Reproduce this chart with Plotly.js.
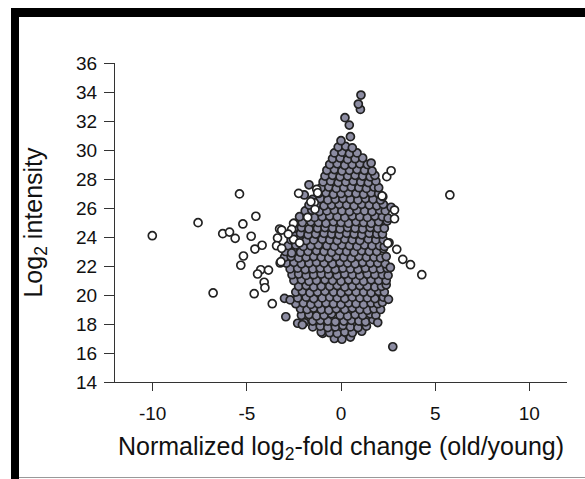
<!DOCTYPE html>
<html>
<head>
<meta charset="utf-8">
<script src="https://cdn.plot.ly/plotly-3.0.1.min.js"></script>
<style>
  html, body { margin: 0; padding: 0; background: #fff; }
  #wrap { position: relative; width: 585px; height: 479px; overflow: hidden; }
  #chart { position: absolute; left: 0; top: 0; width: 585px; height: 479px; }
  .bar { position: absolute; background: #000; }
</style>
</head>
<body>
<div id="wrap">
  <div id="chart"></div>
  <div class="bar" style="left:11px; top:8px; width:574px; height:9px;"></div>
  <div class="bar" style="left:11px; top:8px; width:8px; height:471px;"></div>
  <div class="bar" style="left:19px; top:477px; width:566px; height:1px; background:#999;"></div>
</div>
<script>
// Open (white) outlier proteins: log2 fold change and log2 intensity
const openX = [-10.02, -7.59, -5.39, -4.52, -5.21, -6.28, -5.92, -5.62, -4.77, -4.57, -4.19, -5.18, -5.32,
  -4.26, -3.85, -4.43, -4.08, -4.04, -6.79, -4.61, -3.65, -3.26, -3.37, -3.42, -3.23,
  -2.25, -1.42, -1.38, -1.77, -2.52, -3.15, -2.62, -2.52, -3.15, -3.19, -1.29, -1.60, -2.80, -2.20, -1.24,
  2.43, 2.66, 2.22, 2.84, 2.84, 2.18, 5.78, 2.48, 2.96, 3.28, 3.69, 4.29];
const openY = [24.09, 24.99, 26.97, 25.43, 24.90, 24.23, 24.34, 23.91, 24.05, 23.17, 23.43, 22.69, 22.05,
  21.74, 21.72, 21.45, 20.88, 20.50, 20.14, 20.09, 19.40, 24.55, 23.93, 23.40, 22.21,
  27.01, 26.37, 25.91, 25.36, 24.94, 24.48, 24.53, 23.84, 23.22, 22.30, 27.29, 26.43, 24.20, 23.60, 27.05,
  28.16, 28.57, 26.78, 25.86, 25.26, 26.83, 26.90, 23.57, 23.15, 22.46, 22.09, 21.40];

// Filled (grey) proteins, the dense central cloud, listed band by band
const filledX = [
  -0.35, 0.05, 0.50, -0.97, 2.75,
  -1.05, -0.60, -0.20, 0.20, 0.60, 1.10,
  -1.50, -1.10, -0.70, -0.30, 0.10, 0.50, 0.90, 1.35,
  -2.30, -1.95, -1.50, -1.10, -0.70, -0.30, 0.15, 0.55, 0.95, 1.30, 1.70,
  -2.93, -2.10, -1.70, -1.30, -0.90, -0.50, -0.05, 0.35, 0.75, 1.15, 1.55, 1.85,
  -2.15, -1.80, -1.45, -1.05, -0.65, -0.25, 0.20, 0.60, 1.00, 1.40, 1.75, 2.10,
  -2.40, -2.00, -1.60, -1.20, -0.80, -0.40, 0.00, 0.40, 0.80, 1.20, 1.60, 1.95, 2.20,
  -3.00, -2.70, -2.30, -1.85, -1.45, -1.00, -0.60, -0.20, 0.20, 0.60, 1.00, 1.40, 1.80, 2.25,
  -2.40, -2.05, -1.65, -1.25, -0.85, -0.40, 0.00, 0.40, 0.80, 1.20, 1.60, 2.00, 2.30,
  -2.25, -1.85, -1.45, -1.05, -0.60, -0.20, 0.20, 0.60, 1.00, 1.40, 1.80, 2.15, 2.40,
  -2.50, -2.10, -1.70, -1.30, -0.85, -0.45, 0.00, 0.40, 0.80, 1.20, 1.60, 2.00, 2.40,
  -2.60, -2.25, -1.85, -1.45, -1.05, -0.65, -0.20, 0.20, 0.60, 1.00, 1.40, 1.80, 2.20, 2.50,
  -2.70, -2.30, -1.90, -1.50, -1.10, -0.70, -0.30, 0.10, 0.50, 0.90, 1.30, 1.70, 2.10, 2.45,
  -2.90, -2.50, -2.10, -1.70, -1.30, -0.90, -0.45, -0.05, 0.35, 0.75, 1.15, 1.55, 1.95, 2.35,
  -3.00, -2.65, -2.25, -1.85, -1.45, -1.05, -0.65, -0.25, 0.15, 0.55, 0.95, 1.35, 1.75, 2.10, 2.40,
  -2.95, -2.55, -2.15, -1.75, -1.30, -0.90, -0.50, -0.10, 0.30, 0.70, 1.10, 1.50, 1.90, 2.25,
  -2.80, -2.40, -2.00, -1.60, -1.20, -0.75, -0.35, 0.05, 0.45, 0.85, 1.25, 1.65, 2.05, 2.30,
  -2.65, -2.25, -1.85, -1.45, -1.00, -0.60, -0.20, 0.20, 0.60, 1.00, 1.45, 1.85, 2.25,
  -2.55, -2.15, -1.75, -1.35, -0.90, -0.50, -0.10, 0.30, 0.70, 1.10, 1.50, 1.90, 2.20,
  -2.50, -2.10, -1.70, -1.25, -0.85, -0.45, -0.05, 0.35, 0.75, 1.15, 1.55, 1.95, 2.30,
  -2.48, -2.05, -1.60, -1.20, -0.80, -0.40, 0.00, 0.40, 0.80, 1.20, 1.60, 2.00, 2.45,
  -2.20, -1.80, -1.40, -1.00, -0.60, -0.20, 0.20, 0.60, 1.00, 1.40, 1.80, 2.20, 2.50,
  -1.90, -1.55, -1.15, -0.75, -0.35, 0.05, 0.45, 0.85, 1.25, 1.65, 2.05, 2.35,
  -1.70, -1.30, -0.90, -0.50, -0.10, 0.30, 0.70, 1.10, 1.50, 1.90, 2.25, 2.66,
  -1.50, -1.10, -0.70, -0.30, 0.10, 0.50, 0.90, 1.30, 1.70, 2.10,
  -1.20, -0.80, -0.40, 0.00, 0.40, 0.80, 1.20, 1.60, 2.00,
  -1.05, -0.65, -0.25, 0.15, 0.55, 0.95, 1.35, 1.75, 2.00,
  -0.95, -0.55, -0.15, 0.25, 0.65, 1.05, 1.45, 1.85,
  -0.85, -0.45, -0.05, 0.35, 0.75, 1.15, 1.55, 1.80,
  -0.75, -0.35, 0.05, 0.45, 0.85, 1.25, 1.65,
  -0.60, -0.20, 0.20, 0.60, 1.00, 1.40, 1.60,
  -0.45, -0.05, 0.35, 0.75, 1.15,
  -0.35, 0.05, 0.45, 0.85,
  -0.15, 0.25, 0.60,
  0.00, 0.50, 0.44, 0.21, 1.03, 0.92, 1.06,
  -2.62, 2.55, 2.62, -1.95, 2.52, -2.05, 1.95, -1.70
];
const filledY = [
  17.00, 16.95, 17.10, 17.36, 16.43,
  17.45, 17.40, 17.35, 17.45, 17.40, 17.50,
  17.80, 17.85, 17.75, 17.80, 17.90, 17.80, 17.75, 17.85,
  18.05, 18.10, 18.20, 18.25, 18.20, 18.15, 18.20, 18.25, 18.20, 18.15, 18.30,
  18.50, 18.60, 18.65, 18.55, 18.60, 18.70, 18.60, 18.55, 18.65, 18.60, 18.70, 18.60,
  19.05, 19.00, 19.10, 19.00, 18.95, 19.05, 19.00, 19.10, 19.00, 18.95, 19.05, 19.00,
  19.40, 19.45, 19.35, 19.40, 19.45, 19.40, 19.35, 19.45, 19.40, 19.35, 19.45, 19.40, 19.50,
  19.77, 19.66, 19.80, 19.85, 19.75, 19.80, 19.85, 19.80, 19.75, 19.85, 19.80, 19.80, 19.75, 19.85,
  20.20, 20.25, 20.15, 20.20, 20.25, 20.20, 20.15, 20.25, 20.20, 20.20, 20.15, 20.25, 20.20,
  20.60, 20.65, 20.55, 20.60, 20.60, 20.65, 20.55, 20.60, 20.65, 20.60, 20.55, 20.60, 20.70,
  21.00, 21.05, 20.95, 21.00, 21.05, 21.00, 20.95, 21.05, 21.00, 20.95, 21.05, 21.00, 21.00,
  21.40, 21.45, 21.35, 21.40, 21.45, 21.40, 21.35, 21.45, 21.40, 21.35, 21.45, 21.40, 21.40, 21.35,
  21.80, 21.85, 21.75, 21.80, 21.85, 21.80, 21.75, 21.85, 21.80, 21.75, 21.85, 21.80, 21.80, 21.85,
  22.20, 22.25, 22.15, 22.20, 22.25, 22.20, 22.15, 22.25, 22.20, 22.15, 22.25, 22.20, 22.20, 22.15,
  22.60, 22.65, 22.55, 22.60, 22.65, 22.60, 22.55, 22.65, 22.60, 22.55, 22.65, 22.60, 22.60, 22.55, 22.65,
  23.00, 23.05, 22.95, 23.00, 23.05, 23.00, 22.95, 23.05, 23.00, 22.95, 23.05, 23.00, 23.00, 23.20,
  23.40, 23.45, 23.35, 23.40, 23.45, 23.40, 23.35, 23.45, 23.40, 23.35, 23.45, 23.40, 23.40, 23.35,
  23.80, 23.85, 23.75, 23.80, 23.85, 23.80, 23.75, 23.85, 23.80, 23.75, 23.85, 23.80, 23.80,
  24.20, 24.25, 24.15, 24.20, 24.25, 24.20, 24.15, 24.25, 24.20, 24.15, 24.25, 24.20, 24.20,
  24.60, 24.65, 24.55, 24.60, 24.65, 24.60, 24.55, 24.65, 24.60, 24.55, 24.65, 24.60, 24.60,
  24.95, 25.00, 25.05, 25.00, 24.95, 25.05, 25.00, 24.95, 25.05, 25.00, 24.95, 25.05, 25.10,
  25.40, 25.45, 25.35, 25.40, 25.45, 25.40, 25.35, 25.45, 25.40, 25.35, 25.45, 25.40, 25.30,
  25.80, 25.85, 25.75, 25.80, 25.85, 25.80, 25.75, 25.85, 25.80, 25.75, 25.85, 25.80,
  26.20, 26.25, 26.15, 26.20, 26.25, 26.20, 26.15, 26.25, 26.20, 26.15, 26.25, 26.05,
  26.60, 26.65, 26.55, 26.60, 26.65, 26.60, 26.55, 26.65, 26.60, 26.55,
  27.00, 27.05, 26.95, 27.00, 27.05, 27.00, 26.95, 27.05, 27.00,
  27.40, 27.45, 27.35, 27.40, 27.45, 27.40, 27.35, 27.45, 27.40,
  27.80, 27.85, 27.75, 27.80, 27.85, 27.80, 27.75, 27.85,
  28.20, 28.25, 28.15, 28.20, 28.25, 28.20, 28.15, 28.25,
  28.60, 28.65, 28.55, 28.60, 28.65, 28.60, 28.55,
  29.00, 29.05, 28.95, 29.00, 29.05, 29.00, 29.10,
  29.40, 29.45, 29.35, 29.40, 29.45,
  29.80, 29.85, 29.75, 29.80,
  30.20, 30.25, 30.15,
  30.64, 30.92, 31.72, 32.23, 32.80, 33.17, 33.79,
  22.90, 23.60, 21.90, 26.90, 19.70, 17.95, 18.10, 27.60
];

const xTicks = [-10, -5, 0, 5, 10];
const yTicks = [14, 16, 18, 20, 22, 24, 26, 28, 30, 32, 34, 36];

const FONT = '"Liberation Sans", Arial, sans-serif';
const INK = '#222222';

const traces = [
  {
    type: 'scatter', mode: 'markers', x: filledX, y: filledY,
    marker: { size: 8, color: '#8c8ca2', line: { color: INK, width: 1.7 } },
    hoverinfo: 'skip', showlegend: false
  },
  {
    type: 'scatter', mode: 'markers', x: openX, y: openY,
    marker: { size: 8, color: '#ffffff', line: { color: INK, width: 1.7 } },
    hoverinfo: 'skip', showlegend: false
  }
];

const layout = {
  width: 585, height: 479,
  margin: { l: 115, r: 18, t: 63, b: 97 },
  paper_bgcolor: '#ffffff', plot_bgcolor: '#ffffff',
  font: { family: FONT, color: '#111', size: 19 },
  showlegend: false,
  xaxis: {
    range: [-12, 12], tickvals: xTicks, ticktext: xTicks.map(String),
    showline: true, linecolor: '#333', linewidth: 1,
    ticks: 'outside', ticklen: 8, tickwidth: 1, tickcolor: '#333',
    ticklabelstandoff: 6,
    showgrid: false, zeroline: false,
    tickfont: { size: 19, family: FONT, color: '#111' },
    title: { text: 'Normalized log<sub>2</sub>-fold change (old/young)', font: { size: 25, family: FONT, color: '#111' }, standoff: 14 },
    automargin: false
  },
  yaxis: {
    range: [14, 36], tickvals: yTicks, ticktext: yTicks.map(String),
    showline: true, linecolor: '#333', linewidth: 1,
    ticks: 'outside', ticklen: 10, tickwidth: 1, tickcolor: '#333',
    ticklabelstandoff: 3,
    showgrid: false, zeroline: false,
    tickfont: { size: 19, family: FONT, color: '#111' },
    title: { text: 'Log<sub>2</sub> intensity', font: { size: 25, family: FONT, color: '#111' }, standoff: 26 },
    automargin: false
  }
};

Plotly.newPlot('chart', traces, layout, { staticPlot: true, displayModeBar: false });
</script>
</body>
</html>
